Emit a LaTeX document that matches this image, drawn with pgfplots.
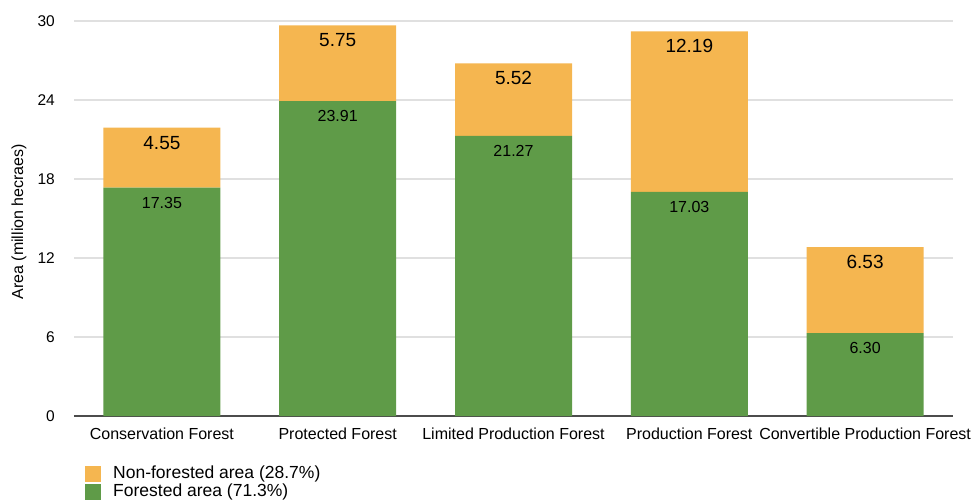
\documentclass[border=0pt]{standalone}
\usepackage{pgfplots}
\pgfplotsset{compat=1.18}
\usepackage{pgfplotstable}
\usepackage{fontspec}
\setmainfont{Liberation Sans}

\definecolor{forest}{RGB}{95,155,72}
\definecolor{nonforest}{RGB}{245,182,80}

\pgfplotstableread{
x forested nonforested
0 17.35 4.55
1 23.91 5.75
2 21.27 5.52
3 17.03 12.19
4 6.30 6.53
}\areadata

% nodes near coords sit mid-segment in stacked bars; move them up to the top
% (395pt / 30 units, halved = 6.5833pt per unit)
\begin{document}
\begin{tikzpicture}
\begin{axis}[
    scale only axis, width=879pt, height=395pt,
    ybar stacked, bar width=117pt,
    xmin=-0.5, xmax=4.5, ymin=0, ymax=30,
    xtick={0,1,2,3,4},
    xticklabels={Conservation Forest, Protected Forest, Limited Production Forest, Production Forest, Convertible Production Forest},
    ytick={0,6,...,30},
    ymajorgrids, grid style={draw=black!12, line width=1.2pt},
    major tick length=0pt,
    axis x line*=bottom, axis y line*=left,
    x axis line style={draw=black!70, line width=1.2pt, -},
    y axis line style={draw=none},
    tick label style={font=\fontsize{15.5}{17}\selectfont},
    /pgf/number format/assume math mode=true,
    xticklabel style={font=\fontsize{16}{18}\selectfont, anchor=north, inner sep=0pt, yshift=-12pt},
    yticklabel style={anchor=east, inner sep=0pt, xshift=-19pt},
    ylabel={Area (million hecraes)},
    ylabel style={font=\fontsize{16}{18}\selectfont, at={(axis description cs:-0.0625,0.492)}, anchor=center},
    legend style={at={(axis description cs:0.0125,-0.1266)}, anchor=north west,
      draw=none, fill=none, font=\fontsize{17.5}{19}\selectfont,
      row sep=1.5pt, inner sep=0pt, nodes={inner sep=0pt, text height=12pt, text depth=3pt},
      /tikz/every odd column/.append style={column sep=12pt}},
    legend cell align=left,
    legend image code/.code={\fill[#1] (0pt,-8pt) rectangle (16pt,8pt);},
    reverse legend,
    point meta=explicit symbolic,
  ]
\addplot[fill=forest, draw=none, nodes near coords,
  every node near coord/.append style={font=\fontsize{16}{18}\selectfont, anchor=center,
    yshift={\pgfplotspointmeta*6.5833pt-15pt}, text=black}]
  table[x=x, y=forested, meta=forested] {\areadata};
\addplot[fill=nonforest, draw=none, nodes near coords,
  every node near coord/.append style={font=\fontsize{19}{21}\selectfont, anchor=center,
    yshift={\pgfplotspointmeta*6.5833pt-15pt}, text=black}]
  table[x=x, y=nonforested, meta=nonforested] {\areadata};
\legend{Forested area (71.3\%), Non-forested area (28.7\%)}
\end{axis}
\pgfresetboundingbox
\path[use as bounding box] (-74pt,-84pt) rectangle (899pt,416pt);
\end{tikzpicture}
\end{document}
